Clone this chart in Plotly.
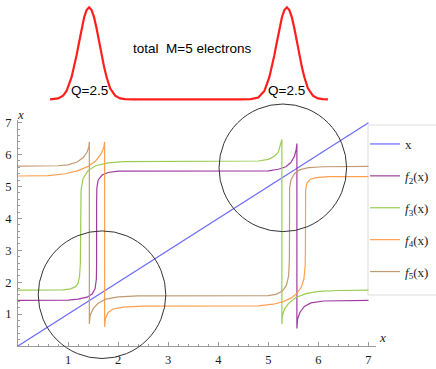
import plotly.graph_objects as go

# ---------------------------------------------------------------------------
# Data
# ---------------------------------------------------------------------------
LINE_X = [0, 7]
LINE_Y = [0, 7]

F2_X = [0, 1.0, 1.2, 1.38, 1.48, 1.54, 1.565, 1.57, 1.57, 1.575, 1.6, 1.68, 1.8, 2.0,
        5.0, 5.2, 5.35, 5.45, 5.52, 5.555, 5.57,
        5.57, 5.585, 5.63, 5.72, 5.85, 6.1, 7.0]
F2_Y = [1.43, 1.44, 1.47, 1.53, 1.63, 1.8, 2.1, 2.6, 4.5, 4.95, 5.2, 5.36, 5.44, 5.48,
        5.49, 5.54, 5.62, 5.75, 5.95, 6.15, 6.35,
        0.55, 0.85, 1.05, 1.24, 1.35, 1.41, 1.43]

F3_X = [0, 0.9, 1.05, 1.15, 1.2, 1.23, 1.245, 1.25, 1.25, 1.26, 1.3, 1.4, 1.55, 1.8, 2.1,
        4.8, 5.0, 5.12, 5.2, 5.245, 5.27,
        5.27, 5.28, 5.32, 5.4, 5.55, 5.75, 6.0, 6.4, 7.0]
F3_Y = [1.75, 1.76, 1.79, 1.86, 1.97, 2.2, 2.6, 3.5, 4.5, 4.9, 5.25, 5.5, 5.65, 5.74, 5.78,
        5.80, 5.85, 5.95, 6.08, 6.3, 6.48,
        0.68, 0.95, 1.15, 1.33, 1.52, 1.64, 1.71, 1.74, 1.75]

F4_X = [0, 0.6, 0.95, 1.2, 1.4, 1.55, 1.65, 1.71, 1.73,
        1.73, 1.745, 1.8, 1.9, 2.1, 2.5, 4.8, 5.1, 5.3, 5.45, 5.57, 5.66, 5.71, 5.735, 5.74,
        5.74, 5.745, 5.77, 5.83, 5.95, 6.2, 7.0]
F4_Y = [5.33, 5.34, 5.40, 5.5, 5.63, 5.8, 6.0, 6.2, 6.4,
        0.6, 0.85, 1.05, 1.16, 1.22, 1.25, 1.26, 1.31, 1.39, 1.5, 1.65, 1.85, 2.1, 2.5, 3.0,
        4.5, 4.9, 5.1, 5.22, 5.28, 5.31, 5.31]

F5_X = [0, 0.8, 1.0, 1.18, 1.3, 1.38, 1.415, 1.425,
        1.425, 1.44, 1.5, 1.6, 1.75, 2.0, 2.4, 5.0, 5.15, 5.28, 5.36, 5.405, 5.42,
        5.42, 5.425, 5.45, 5.52, 5.62, 5.8, 6.1, 7.0]
F5_Y = [5.64, 5.65, 5.68, 5.77, 5.9, 6.08, 6.25, 6.4,
        0.69, 0.95, 1.17, 1.34, 1.47, 1.54, 1.57, 1.58, 1.62, 1.72, 1.9, 2.2, 2.7,
        4.6, 4.95, 5.2, 5.4, 5.52, 5.59, 5.62, 5.63]

DENSITY_X = [0.64, 0.80, 0.90, 0.97, 1.07, 1.12, 1.17, 1.22, 1.27, 1.32, 1.37, 1.42,
             1.47, 1.52, 1.57, 1.62, 1.67, 1.72, 1.77, 1.84, 1.94, 2.04, 2.14, 2.3,
             4.45, 4.65, 4.8, 4.92, 5.02, 5.07, 5.12, 5.17, 5.22, 5.27, 5.32, 5.37,
             5.42, 5.47, 5.52, 5.57, 5.62, 5.67, 5.72, 5.79, 5.89, 5.99, 6.09, 6.19]
DENSITY_Y = [0.0, 0.01, 0.04, 0.09, 0.24, 0.35, 0.48, 0.62, 0.77, 0.89, 0.97, 1.0,
             0.97, 0.89, 0.77, 0.62, 0.48, 0.35, 0.24, 0.12, 0.04, 0.01, 0.002, 0.0,
             0.0, 0.002, 0.02, 0.09, 0.24, 0.35, 0.48, 0.62, 0.77, 0.89, 0.97, 1.0,
             0.97, 0.89, 0.77, 0.62, 0.48, 0.35, 0.24, 0.12, 0.04, 0.01, 0.002, 0.0]

CIRCLE_CX = [1.678, 5.289]
CIRCLE_CY = [1.608, 5.586]
CIRCLE_R_PX = 63.8

TICKS = [1, 2, 3, 4, 5, 6, 7]

SERIES = [
    ("x", LINE_X, LINE_Y, "#6b6bff"),
    ("<i>f</i><sub>2</sub>(x)", F2_X, F2_Y, "#a03ca0"),
    ("<i>f</i><sub>3</sub>(x)", F3_X, F3_Y, "#9acd52"),
    ("<i>f</i><sub>4</sub>(x)", F4_X, F4_Y, "#ffa050"),
    ("<i>f</i><sub>5</sub>(x)", F5_X, F5_Y, "#c49a74"),
]

# ---------------------------------------------------------------------------
# Geometry of the page (pixels)
# ---------------------------------------------------------------------------
W, H = 436, 369
LEFT, RIGHT = 18, 60
X_MAX = 7.15
Y_BOT_PX, Y_TOP_PX, Y_MAX = 346, 120, 7.085
scale = (Y_BOT_PX - Y_TOP_PX) / Y_MAX
DENS_BASE_PX, DENS_PEAK_PX = 99.3, 7.3
dscale = DENS_BASE_PX - DENS_PEAK_PX
dens_r0 = -(H - DENS_BASE_PX) / dscale
PLOT_W = W - LEFT - RIGHT

SERIF = "Liberation Serif"
AXIS_GREY = "#9a9a9a"

fig = go.Figure()
for i, (name, xs, ys, color) in enumerate(SERIES):
    fig.add_trace(go.Scatter(x=xs, y=ys, name=name, mode="lines",
                             line=dict(color=color, width=1.2),
                             legendgroup=f"g{i}"))

fig.add_trace(go.Scatter(x=DENSITY_X, y=DENSITY_Y, mode="lines", yaxis="y3",
                         line=dict(color="#ff1e1e", width=2.2), showlegend=False,
                         hoverinfo="skip"))
fig.add_trace(go.Scatter(x=[], y=[], yaxis="y2", showlegend=False, hoverinfo="skip"))

for cx, cy in zip(CIRCLE_CX, CIRCLE_CY):
    fig.add_shape(type="circle", xref="x", yref="y2", xsizemode="pixel", ysizemode="pixel",
                  xanchor=cx, yanchor=cy, x0=-CIRCLE_R_PX, x1=CIRCLE_R_PX,
                  y0=-CIRCLE_R_PX, y1=CIRCLE_R_PX, line=dict(color="#333333", width=1))

# legend frame
fig.add_shape(type="rect", xref="paper", yref="paper", layer="below",
              x0=(368 - LEFT) / PLOT_W, x1=1.3,
              y0=(H - 295) / H, y1=(H - 125) / H,
              line=dict(color="#dddddd", width=1), fillcolor="white")

txt_font = dict(family="Liberation Sans", size=13.5, color="black")
fig.add_annotation(x=3.48, y=0.547, xref="x", yref="y3", text="total  M=5 electrons",
                   showarrow=False, font=txt_font)
for xq in (1.42, 5.37):
    fig.add_annotation(x=xq, y=0.10, xref="x", yref="y3", text="Q=2.5",
                       showarrow=False, font=txt_font)

lab_font = dict(family=SERIF, size=13, color="#222222")
fig.add_annotation(x=(15 - LEFT) / PLOT_W, y=(H - 105) / H, xref="paper",
                   yref="paper", text="<i>x</i>", showarrow=False, font=lab_font)
fig.add_annotation(x=(388 - LEFT) / PLOT_W, y=(H - 347) / H, xref="paper",
                   yref="paper", text="<i>x</i>", showarrow=False, font=lab_font)

axis_common = dict(
    showline=True, linecolor=AXIS_GREY, linewidth=1,
    ticks="inside", ticklen=4, tickcolor=AXIS_GREY, tickwidth=1,
    tickvals=TICKS, showgrid=False, zeroline=False,
    tickfont=dict(family=SERIF, size=12.5, color="#1a1a1a"),
    minor=dict(tickmode="linear", tick0=0, dtick=0.2, ticks="inside", ticklen=2,
               tickcolor=AXIS_GREY, showgrid=False),
)

fig.update_layout(
    width=W, height=H,
    margin=dict(l=LEFT, r=RIGHT, t=0, b=0, autoexpand=False),
    paper_bgcolor="white", plot_bgcolor="rgba(0,0,0,0)",
    xaxis=dict(range=[0, X_MAX], anchor="y", ticklabelstandoff=2, **axis_common),
    yaxis=dict(range=[0, Y_MAX], domain=[(H - Y_BOT_PX) / H, (H - Y_TOP_PX) / H],
               anchor="x", ticklabelstandoff=3, **axis_common),
    yaxis2=dict(range=[-(H - Y_BOT_PX) / scale, Y_BOT_PX / scale], domain=[0, 1],
                anchor="x", visible=False),
    yaxis3=dict(range=[dens_r0, dens_r0 + H / dscale], domain=[0, 1],
                anchor="x", visible=False),
    legend=dict(x=(365 - LEFT) / PLOT_W, y=(H - 129) / H,
                xanchor="left", yanchor="top", bgcolor="rgba(0,0,0,0)", borderwidth=0,
                font=dict(family=SERIF, size=13, color="#222222"),
                tracegroupgap=12, traceorder="grouped", itemwidth=30),
    showlegend=True,
)

fig.write_html("out.html", config={"displayModeBar": False},
               post_script="document.body.style.margin='0';")
